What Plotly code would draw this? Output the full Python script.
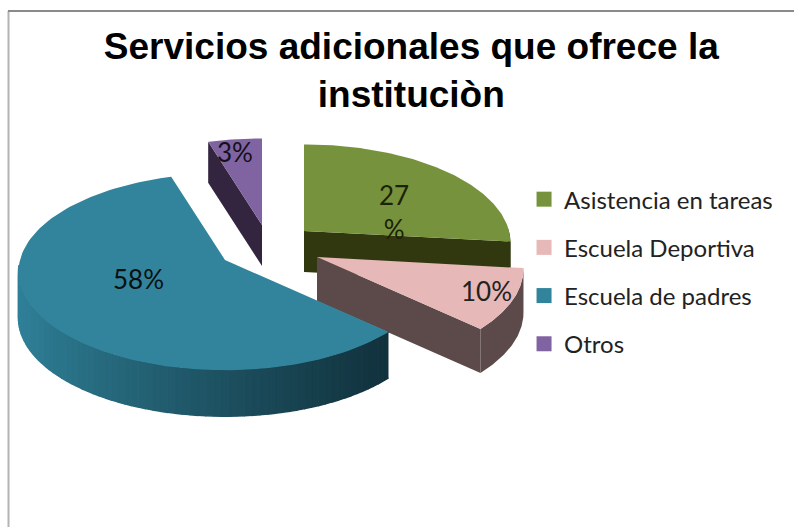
import numpy as np
import plotly.graph_objects as go

# ---- data ----
categories = ["Asistencia en tareas", "Escuela Deportiva", "Escuela de padres", "Otros"]
values = [27, 10, 58, 3]
labels = ["27<br>%", "10%", "58%", "3%"]

# ---- style / layout ----
top_colors = ["#76923C", "#E6B8B7", "#31849B", "#8064A2"]
wall_colors = ["#31380F", "#5C4A4A", None, "#33243F"]
apex_px = [(304, 231), (317, 257), (225, 260), (262, 225)]
depths = [41, 44, 46, 41]
label_px = [(394, 212), (486, 291), (138, 279), (235, 152)]
RX, RY, PERSP = 205, 97, 0.12
W, H = 794, 527

# screen-angle correction of the tilted, stretched pie
warp_in = [0, 99, 136, 349, 360]
warp_out = [0, 96, 133, 343, 360]

edges = np.concatenate([[0], np.cumsum(values)]) / sum(values) * 360


def project(theta, apex):
    t = np.radians(np.interp(theta, warp_in, warp_out))
    d = 1 + PERSP * np.cos(t)
    return apex[0] + RX * np.sin(t) / d, apex[1] - RY * np.cos(t) / d


def poly(fig, x, y, color, lw=0):
    fig.add_trace(go.Scatter(x=list(x), y=list(y), mode="lines", fill="toself",
                             fillcolor=color, line=dict(width=lw, color=color),
                             hoverinfo="skip", showlegend=False))


def hex_mix(c1, c2, f):
    a = [int(c1[i:i + 2], 16) for i in (1, 3, 5)]
    b = [int(c2[i:i + 2], 16) for i in (1, 3, 5)]
    return "rgb(%d,%d,%d)" % tuple(round(p + (q - p) * f) for p, q in zip(a, b))


fig = go.Figure()

for i in [3, 0, 1, 2]:  # back to front
    a0, a1 = edges[i], edges[i + 1]
    apex = apex_px[i]
    depth = depths[i]
    th = np.linspace(a0, a1, 120)
    ax, ay = project(th, apex)

    if i == 3:  # wall of the left cut
        poly(fig, [apex[0], ax[0], ax[0], apex[0]],
             [apex[1], ay[0], ay[0] + depth, apex[1] + depth], wall_colors[i])
    if i in (0, 1):  # wall of the lower cut, then of the rim
        poly(fig, [apex[0], ax[-1], ax[-1], apex[0]],
             [apex[1], ay[-1], ay[-1] + depth, apex[1] + depth], wall_colors[i])
        keep = th >= 90
        rx_, ry_ = ax[keep], ay[keep]
        poly(fig, np.concatenate([rx_, rx_[::-1]]),
             np.concatenate([ry_, ry_[::-1] + depth]), wall_colors[i])
    if i == 2:  # shaded rim
        rim = th[th <= 272]
        n = 70
        cuts = np.linspace(rim[0], rim[-1], n + 1)
        for k in range(n):
            t = np.linspace(cuts[k], cuts[k + 1], 4)
            x, y = project(t, apex)
            f = (x.mean() - (apex[0] - RX)) / (2 * RX * 0.9)
            col = hex_mix("#2F8098", "#11313C", min(1, max(0, f)) ** 0.85)
            poly(fig, np.concatenate([x, x[::-1]]), np.concatenate([y, y[::-1] + depth]), col, lw=1.5)

    poly(fig, np.concatenate([[apex[0]], ax, [apex[0]]]),
         np.concatenate([[apex[1]], ay, [apex[1]]]), top_colors[i])

# legend entries
for name, col in zip(categories, top_colors):
    fig.add_trace(go.Scatter(x=[None], y=[None], mode="markers", name=name, legendgroup=name,
                             marker=dict(symbol="square", size=15, color=col)))

for text, (x, y), col in zip(labels, label_px, ["#1C2108", "#222222", "#0A0F12", "#14101A"]):
    fig.add_annotation(x=x, y=y, text=text, showarrow=False, xanchor="center", yanchor="middle",
                       font=dict(family="Lato", size=26, color=col))

fig.add_shape(type="line", x0=8.5, x1=8.5, y0=H, y1=11, line=dict(color="#B4B4B4", width=2))
fig.add_shape(type="line", x0=8, x1=W, y0=11, y1=11, line=dict(color="#8A8A8A", width=2))

fig.update_layout(
    width=W, height=H, margin=dict(l=0, r=0, t=0, b=0),
    paper_bgcolor="white", plot_bgcolor="white",
    title=dict(text="Servicios adicionales que ofrece la<br>instituciòn", x=0.518, xanchor="center",
               y=0.888, yanchor="bottom",
               font=dict(family="Liberation Sans", size=37, color="black", weight="bold")),
    xaxis=dict(range=[0, W], visible=False, fixedrange=True),
    yaxis=dict(range=[H, 0], visible=False, fixedrange=True),
    legend=dict(x=0.66, y=0.664, xanchor="left", yanchor="top", tracegroupgap=14,
                font=dict(family="Lato", size=24, color="#222222"), bgcolor="rgba(0,0,0,0)"),
    showlegend=True,
)
fig.write_html("out.html", config={"displayModeBar": False},
               post_script="document.body.style.margin='0';document.documentElement.style.overflow='hidden';")
